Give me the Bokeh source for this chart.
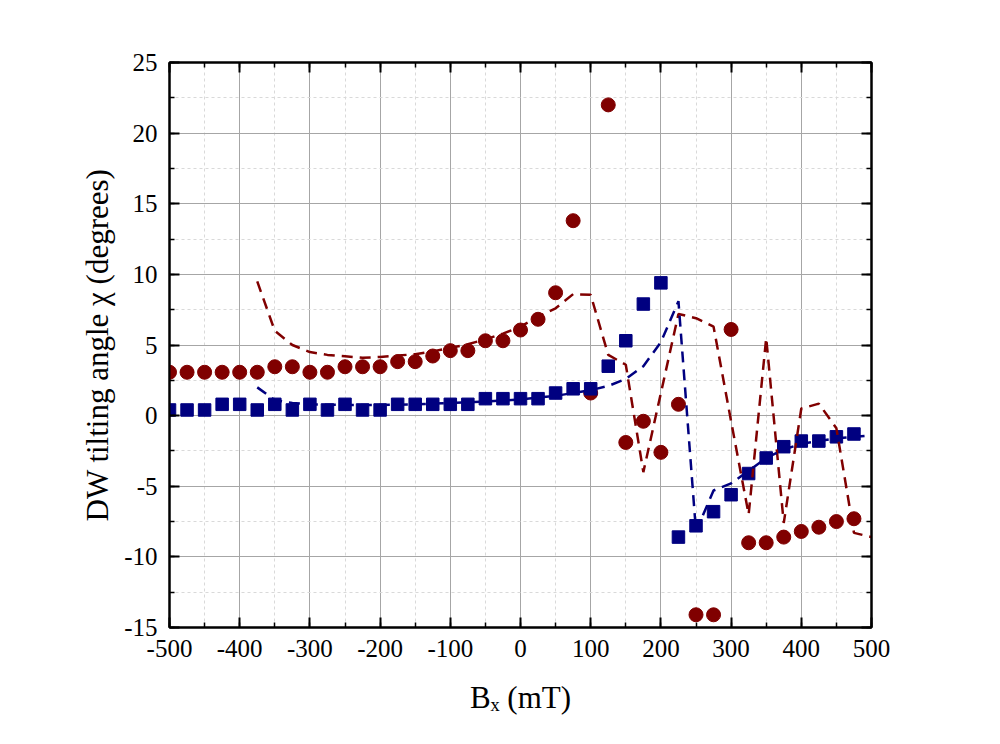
from bokeh.plotting import figure
from bokeh.models import Range1d, LinearAxis, SingleIntervalTicker, CustomJSTickFormatter
from bokeh.embed import file_html
from bokeh.resources import INLINE

# ---- data ----
bx = [-500, -475, -450, -425, -400, -375, -350, -325, -300, -275,
      -250, -225, -200, -175, -150, -125, -100, -75, -50, -25,
      0, 25, 50, 75, 100, 125, 150, 175, 200, 225,
      250, 275, 300, 325, 350, 375, 400, 425, 450, 475]
chi_red = [3.07, 3.07, 3.07, 3.07, 3.07, 3.07, 3.46, 3.46, 3.07, 3.07,
           3.46, 3.46, 3.46, 3.82, 3.82, 4.22, 4.6, 4.6, 5.3, 5.3,
           6.06, 6.82, 8.7, 13.8, 1.6, 22.0, -1.9, -0.4, -2.6, 0.8,
           -14.1, -14.1, 6.1, -9.0, -9.0, -8.6, -8.2, -7.9, -7.5, -7.3]
chi_blue = [0.4, 0.4, 0.4, 0.8, 0.8, 0.4, 0.8, 0.4, 0.8, 0.4,
            0.8, 0.4, 0.4, 0.8, 0.8, 0.8, 0.8, 0.8, 1.2, 1.2,
            1.2, 1.2, 1.6, 1.9, 1.9, 3.5, 5.3, 7.9, 9.4, -8.6,
            -7.8, -6.8, -5.6, -4.1, -3.0, -2.2, -1.8, -1.8, -1.5, -1.3]

fit_red_x = [-375, -350, -325, -300, -275, -250, -225, -200, -175, -150,
             -125, -100, -75, -50, -25, 0, 25, 50, 75, 100,
             125, 150, 175, 200, 225, 250, 275, 300, 325, 350,
             375, 400, 425, 450, 475, 500]
fit_red_y = [9.5, 6.0, 5.0, 4.5, 4.3, 4.2, 4.1, 4.15, 4.25, 4.35,
             4.55, 4.8, 5.05, 5.4, 5.8, 6.3, 7.0, 7.6, 8.6, 8.55,
             4.3, 3.6, -4.0, 1.6, 7.2, 6.9, 6.3, -0.4, -7.0, 5.5,
             -7.6, 0.5, 0.85, -0.9, -8.3, -8.6]

fit_blue_x = [-375, -350, -325, -300, -250, -200, -150, -100, -50, 0,
              50, 100, 125, 150, 175, 200, 225, 250, 275, 300,
              325, 350, 375, 400, 425, 450, 475, 500]
fit_blue_y = [2.0, 1.1, 0.9, 0.8, 0.75, 0.75, 0.8, 0.9, 1.0, 1.15,
              1.4, 1.8, 2.1, 2.6, 3.5, 5.2, 8.1, -8.2, -5.3, -4.8,
              -3.9, -3.0, -2.4, -2.0, -1.8, -1.6, -1.5, -1.4]

x_title = "B\u2093 (mT)"
y_title = "DW tilting angle \u03c7 (degrees)"

RED = "#800000"
BLUE = "#000080"
FONT = "Liberation Serif"

p = figure(frame_width=702, frame_height=565,
           x_range=Range1d(-500, 500), y_range=Range1d(-15, 25),
           output_backend="svg", toolbar_location=None,
           min_border_left=169, min_border_right=121,
           min_border_top=62, min_border_bottom=108,
           background_fill_color="white", border_fill_color="white")

xt = SingleIntervalTicker(interval=100, num_minor_ticks=2)
yt = SingleIntervalTicker(interval=5, num_minor_ticks=2)

p.outline_line_color = "black"
p.outline_line_width = 2

for g, t in ((p.xgrid, xt), (p.ygrid, yt)):
    g.ticker = t
    g.grid_line_color = "#a6a6a6"
    g.grid_line_width = 1
    g.minor_grid_line_color = "#d9d9d9"
    g.minor_grid_line_dash = "3 3"
    g.minor_grid_line_width = 1


def style_axis(ax, ticker, labels=True):
    ax.ticker = ticker
    ax.axis_line_color = "black"
    ax.axis_line_width = 2
    ax.major_tick_in = 10
    ax.major_tick_out = 0
    ax.minor_tick_in = 5
    ax.minor_tick_out = 0
    ax.major_tick_line_width = 2
    ax.minor_tick_line_width = 1.5
    ax.major_tick_line_color = "black"
    ax.minor_tick_line_color = "black"
    ax.major_label_text_font = FONT
    ax.major_label_text_font_size = "25px"
    ax.major_label_text_color = "black"
    ax.major_label_standoff = 12
    if labels:
        ax.formatter = CustomJSTickFormatter(code="return String(tick)")
    else:
        ax.formatter = CustomJSTickFormatter(code="return ''")
        ax.major_label_standoff = 0


style_axis(p.xaxis[0], xt)
style_axis(p.yaxis[0], yt)

p.yaxis[0].axis_label = y_title
p.yaxis[0].axis_label_text_font = FONT
p.yaxis[0].axis_label_text_font_size = "31px"
p.yaxis[0].axis_label_text_font_style = "normal"
p.yaxis[0].axis_label_text_color = "black"
p.yaxis[0].axis_label_standoff = 6

p.xaxis[0].axis_label = x_title
p.xaxis[0].axis_label_text_font = FONT
p.xaxis[0].axis_label_text_font_size = "31px"
p.xaxis[0].axis_label_text_font_style = "normal"
p.xaxis[0].axis_label_text_color = "black"
p.xaxis[0].axis_label_standoff = 20

top = LinearAxis()
style_axis(top, xt, labels=False)
p.add_layout(top, "above")
right = LinearAxis()
style_axis(right, yt, labels=False)
p.add_layout(right, "right")

# markers
p.scatter(bx, chi_red, marker="circle", size=14, fill_color=RED, line_color=RED)
p.scatter(bx, chi_blue, marker="square", size=12.5, fill_color=BLUE, line_color=BLUE)

# dashed simulation lines
p.line(fit_red_x, fit_red_y, line_color=RED, line_width=2.5, line_dash="11 7")
p.line(fit_blue_x, fit_blue_y, line_color=BLUE, line_width=2.5, line_dash="11 7")

open("out.html", "w").write(file_html(p, INLINE))
